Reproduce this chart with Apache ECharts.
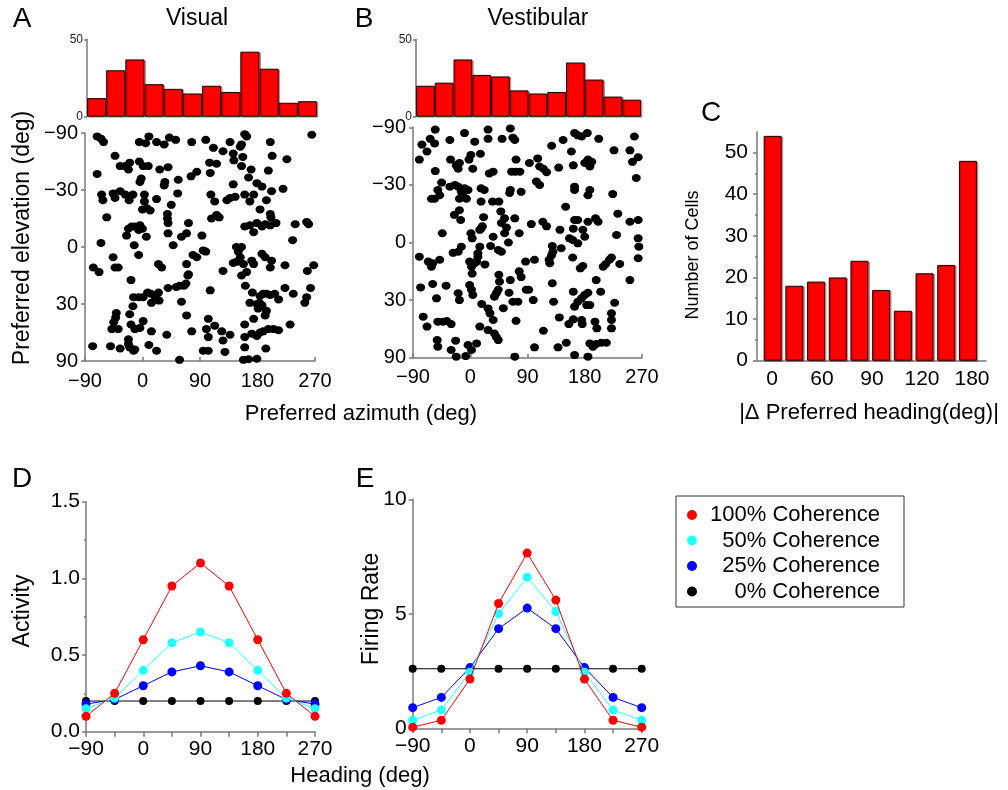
<!DOCTYPE html>
<html><head><meta charset="utf-8">
<script src="https://cdn.jsdelivr.net/npm/echarts@6/dist/echarts.min.js"></script>
<style>html,body{margin:0;padding:0;background:#fff}#c{width:1008px;height:790px}</style>
</head><body><div id="c"></div>
<script>
const FONT = '"Liberation Sans", Arial, Helvetica, sans-serif';

// ---- A / B : azimuth histograms (30° bins from -90 to 270) ----
const azBinCenters = [-75,-45,-15,15,45,75,105,135,165,195,225,255];
const visualAzCounts = [12,30,37,21,18,15,20,16,42,31,9,10];
const vestibularAzCounts = [20,22,37,27,26,17,15,16,35,24,13,11];

// ---- A / B : preferred directions [azimuth (deg), elevation on sine (equal-area) scale] ----
const visualCells = [
[-71,-0.97],[-65,-0.95],[-61,-0.92],[-5,-0.92],[5,-0.91],[10,-0.97],[22,-0.92],[34,-0.90],[42,-0.96],[52,-0.94],[77,-0.92],[99,-0.94],[111,-0.87],[126,-0.84],[137,-0.92],[142,-0.82],[160,-0.99],[163,-0.97],[155,-0.90],[153,-0.88],[200,-0.92],[203,-0.80],[226,-0.77],[265,-0.985],
[-43,-0.80],[-35,-0.71],[-27,-0.71],[-22,-0.68],[-20,-0.74],[-5,-0.75],[1,-0.71],[9,-0.71],[27,-0.68],[40,-0.70],[-71,-0.64],[-2,-0.60],[-4,-0.57],[56,-0.59],[76,-0.62],[85,-0.66],[105,-0.74],[116,-0.73],[106,-0.65],[143,-0.76],[157,-0.79],[155,-0.71],[170,-0.68],[166,-0.61],[179,-0.56],[187,-0.53],[197,-0.67],[202,-0.49],[220,-0.51],[142,-0.55],[34,-0.54],[35,-0.57],
[-64,-0.46],[-62,-0.41],[-46,-0.47],[-43,-0.43],[-35,-0.49],[-27,-0.46],[-20,-0.44],[-15,-0.46],[-21,-0.41],[3,-0.46],[3,-0.40],[7,-0.34],[0,-0.33],[12,-0.32],[22,-0.42],[55,-0.47],[45,-0.37],[39,-0.29],[39,-0.25],[107,-0.46],[113,-0.40],[120,-0.26],[116,-0.28],[108,-0.25],[132,-0.41],[137,-0.43],[145,-0.44],[160,-0.46],[168,-0.40],[174,-0.46],[194,-0.41],[184,-0.33],[200,-0.29],[201,-0.26],[-56,-0.26],
[-22,-0.16],[-17,-0.18],[-12,-0.18],[-4,-0.19],[0,-0.16],[-6,-0.15],[40,-0.21],[40,-0.12],[72,-0.21],[69,-0.12],[61,-0.09],[93,-0.10],[160,-0.18],[168,-0.19],[174,-0.13],[179,-0.21],[187,-0.18],[192,-0.20],[200,-0.19],[209,-0.21],[239,-0.20],[257,-0.22],[260,-0.20],[-25,-0.10],[6,-0.09],[-65,-0.035],[48,-0.015],[-13,-0.015],[-6,0.07],[235,-0.06],
[-46,0.09],[-38,0.18],[-43,0.18],[-77,0.18],[-68,0.22],[-18,0.29],[25,0.15],[30,0.18],[69,0.15],[72,0.24],[71,0.25],[68,0.32],[65,0.34],[58,0.34],[53,0.35],[79,0.07],[85,0.09],[95,0.03],[99,0.04],[40,0.36],[61,0.48],[106,0.38],[126,0.21],
[147,0.0],[155,0.0],[150,0.04],[153,0.09],[147,0.13],[158,0.15],[155,0.25],[163,0.22],[171,0.12],[174,0.15],[187,0.06],[192,0.09],[202,0.12],[200,0.18],[142,0.14],[223,0.16],[268,0.16],[258,0.21],
[161,0.34],[172,0.40],[184,0.43],[189,0.41],[194,0.41],[200,0.42],[207,0.41],[213,0.46],[183,0.49],[187,0.51],[181,0.54],[179,0.50],[168,0.49],[194,0.56],[192,0.60],[223,0.36],[236,0.41],[257,0.44],[254,0.49],[263,0.36],
[-14,0.44],[-6,0.44],[1,0.44],[8,0.40],[13,0.41],[20,0.44],[25,0.40],[26,0.47],[14,0.49],[-15,0.52],[-41,0.58],[-42,0.62],[-45,0.66],[-48,0.72],[-38,0.72],[-20,0.59],[1,0.65],[-18,0.68],[-12,0.72],[-4,0.71],[14,0.74],[38,0.77],[69,0.60],[77,0.74],[103,0.63],[100,0.72],[113,0.69],[103,0.79],[124,0.74],[126,0.82],[137,0.77],[160,0.68],[174,0.63],[171,0.76],[160,0.79],[179,0.78],[184,0.75],[189,0.74],[197,0.72],[205,0.72],[213,0.73],[231,0.68],
[-78,0.87],[-50,0.87],[-35,0.89],[-22,0.81],[-22,0.85],[-20,0.88],[-14,0.91],[-12,0.90],[10,0.86],[22,0.91],[58,0.99],[95,0.91],[103,0.91],[129,0.92],[160,0.88],[158,0.99],[166,0.985],[179,0.98],[193,0.89]
];
const vestibularCells = [
[-80,-0.72],[-76,-0.85],[-68,-0.79],[-63,-0.90],[-56,-0.86],[-55,-0.98],[-55,-0.62],[-32,-0.89],[-31,-0.72],[-22,-0.67],[-17,-0.69],[-19,-0.64],[-9,-0.95],[-2,-0.72],[1,-0.76],[7,-0.875],[4,-0.64],[16,-0.77],[28,-0.98],[28,-0.90],[50,-0.90],[63,-0.99],[67,-0.91],[70,-0.89],[72,-0.72],[65,-0.615],[71,-0.615],[78,-0.615],[30,-0.60],[36,-0.615],
[93,-0.69],[106,-0.73],[109,-0.66],[115,-0.64],[120,-0.61],[128,-0.84],[146,-0.89],[139,-0.65],[159,-0.79],[162,-0.67],[164,-0.95],[169,-0.93],[175,-0.92],[180,-0.69],[184,-0.95],[185,-0.72],[191,-0.70],[188,-0.66],[202,-0.90],[226,-0.80],[251,-0.80],[258,-0.92],[255,-0.70],[264,-0.74],[261,-0.56],
[104,-0.53],[109,-0.50],[164,-0.485],[164,-0.456],[188,-0.456],[185,-0.41],[224,-0.42],
[-45,-0.52],[-51,-0.456],[-48,-0.41],[-56,-0.38],[-61,-0.38],[-32,-0.485],[-24,-0.50],[-19,-0.485],[-14,-0.44],[-11,-0.40],[-9,-0.47],[-3.5,-0.456],[-17,-0.38],[-6,-0.38],[17,-0.47],[22,-0.456],[17,-0.355],[35,-0.355],[45,-0.355],[63,-0.456],[62,-0.43],[80,-0.44],
[-17,-0.28],[-25,-0.24],[-15,-0.195],[21,-0.22],[17,-0.12],[15,-0.11],[19,-0.14],[48,-0.27],[54,-0.21],[57,-0.13],[54,-0.08],[49,-0.17],[70,-0.21],[77,-0.08],[96,-0.16],[114,-0.18],[120,-0.14],[141,-0.11],[150,-0.31],[164,-0.195],[162,-0.12],[169,-0.195],[177,-0.11],[185,-0.18],[197,-0.21],[201,-0.18],[232,-0.25],[230,-0.065],[251,-0.18],[264,-0.195],
[-44,-0.08],[1,-0.08],[3,-0.036],[36,-0.05],[-19,0.08],[-14,0.036],[-27,0.09],[15,0.036],[12,0.094],[10,0.166],[2,0.21],[3,0.27],[7,0.18],[-1,0.166],[23,0.19],[12,0.123],[32,0.03],[44,0.065],[49,0.08],[60,0.0],
[-80,0.123],[-66,0.166],[-61,0.21],[-59,0.18],[-48,0.15],[77,0.25],[80,0.30],[87,0.166],[101,0.15],[124,0.15],[125,0.18],[128,0.11],[130,0.08],[129,0.03],[143,0.05],[156,-0.036],[161,-0.022],[169,0.007],[180,-0.05],[161,0.13],[173,0.224],[177,0.204],[209,0.21],[213,0.187],[219,0.15],[222,0.13],[235,0.187],[264,-0.036],[265,0.036],[264,0.137],
[-78,0.39],[-59,0.36],[-38,0.375],[-53,0.485],[-19,0.44],[-17,0.50],[-1,0.37],[2,0.41],[4,0.456],[45,0.28],[46,0.34],[44,0.41],[41,0.44],[38,0.47],[52,0.57],[63,0.326],[61,0.436],[67,0.514],[75,0.514],[88,0.41],[92,0.41],[99,0.50],[129,0.354],[131,0.514],
[162,0.427],[164,0.557],[169,0.514],[175,0.485],[180,0.456],[185,0.436],[183,0.543],[188,0.543],[198,0.326],[205,0.427],[227,0.523],[222,0.615],[222,0.673],[251,0.326],
[18,0.534],[28,0.572],[31,0.615],[36,0.673],[28,0.76],[38,0.79],[41,0.82],[44,0.847],[15,0.73],[-74,0.644],[-68,0.73],[-51,0.687],[-43,0.687],[-37,0.682],[-30,0.708],[72,0.68],[115,0.766],[140,0.65],[155,0.708],[162,0.667],[175,0.673],[176,0.708],[196,0.687],[199,0.745],[222,0.745],
[-52,0.847],[-51,0.904],[-30,0.933],[-23,0.852],[-22,0.991],[-7,0.986],[-3.5,0.89],[2,0.933],[10,0.876],[70,0.991],[101,0.91],[138,0.91],[151,0.87],[164,0.977],[185,0.991],[188,0.876],[193,0.904],[198,0.881],[206,0.87],[214,0.87]
];

// ---- C : |Δ preferred heading| histogram ----
const deltaBinCenters = [9,27,45,63,81,99,117,135,153,171];
const deltaCounts = [54,18,19,20,24,17,12,21,23,48];
const deltaTickLabels = ['0','60','90','120','180'];

// ---- D / E : tuning curves ----
const headings = [-90,-45,0,45,90,135,180,225,270];
const coherenceNames = ['100% Coherence','50% Coherence','25% Coherence','0% Coherence'];
const coherenceLabels = ['100% Coherence','  50% Coherence','  25% Coherence','    0% Coherence'];
const coherenceColors = ['#ff0000','#22ffff','#0000ff','#000000'];
const activity100 = [0.10,0.25,0.60,0.95,1.10,0.95,0.60,0.25,0.10];
const activity50  = [0.15,0.22,0.40,0.58,0.65,0.58,0.40,0.22,0.15];
const activity25  = [0.18,0.21,0.30,0.39,0.43,0.39,0.30,0.21,0.18];
const activity0   = [0.20,0.20,0.20,0.20,0.20,0.20,0.20,0.20,0.20];
const firing100 = [0.05,0.35,2.15,5.45,7.65,5.60,2.15,0.35,0.05];
const firing50  = [0.35,0.80,2.45,5.00,6.60,5.10,2.45,0.80,0.35];
const firing25  = [0.90,1.35,2.65,4.35,5.25,4.35,2.65,1.35,0.90];
const firing0   = [2.60,2.60,2.60,2.60,2.60,2.60,2.60,2.60,2.60];

const minus = v => String(v).replace('-', '\u2212');
const AX = {color:'#7a7a7a', width:1.5};
const TXT = {color:'#000', fontFamily: FONT};

function histAxes(gi){
  return {
    x:{type:'category', gridIndex:gi, data:azBinCenters, boundaryGap:true,
       axisLine:{show:false}, axisTick:{show:false}, axisLabel:{show:false}, splitLine:{show:false}},
    y:{type:'value', gridIndex:gi, min:0, max:50, interval:50,
       axisLine:{show:true, onZero:false, lineStyle:AX}, axisTick:{show:true, length:3, lineStyle:AX},
       axisLabel:{...TXT, fontSize:12, margin:4, color:'#222'}, splitLine:{show:false}}
  };
}
function scatterAxes(gi){
  return {
    x:{type:'value', gridIndex:gi, min:-90, max:270, interval:90,
       axisLine:{show:true, onZero:false, lineStyle:AX}, axisTick:{show:true, inside:true, length:4, lineStyle:AX},
       axisLabel:{...TXT, fontSize:20, margin:10, formatter: v => minus(v)}, splitLine:{show:false}},
    y:{type:'value', gridIndex:gi, min:-1, max:1, interval:0.5, inverse:true,
       axisLine:{show:true, onZero:false, lineStyle:AX}, axisTick:{show:true, length:4, lineStyle:AX},
       axisLabel:{...TXT, fontSize:20, margin:7,
         formatter: v => minus(Math.round(Math.asin(Math.max(-1, Math.min(1, v))) * 180 / Math.PI) || 0)},
       splitLine:{show:false}}
  };
}
function tuningAxes(gi, ymax, yint, yfmt, minor){
  return {
    x:{type:'value', gridIndex:gi, min:-90, max:270, interval:45,
       axisLine:{show:true, onZero:false, lineStyle:AX}, axisTick:{show:true, length:5, lineStyle:AX},
       axisLabel:{...TXT, fontSize:21, margin:7, formatter: v => (v % 90 === 0 ? minus(v) : '')}, splitLine:{show:false}},
    y:{type:'value', gridIndex:gi, min:0, max:ymax, interval:yint,
       axisLine:{show:true, onZero:false, lineStyle:AX}, axisTick:{show:true, length:4, lineStyle:AX},
       minorTick:{show:minor, splitNumber:2, length:2, lineStyle:AX},
       axisLabel:{...TXT, fontSize:21, margin:6, formatter:yfmt}, splitLine:{show:false}}
  };
}

const hA = histAxes(0), sA = scatterAxes(1), hB = histAxes(2), sB = scatterAxes(3);
const tD = tuningAxes(6, 1.5, 0.5, v => v.toFixed(1), true);
const tE = tuningAxes(7, 10, 5, v => String(v), false);

const cX = {type:'value', gridIndex:4, min:-4, max:186,
  axisLine:{show:true, onZero:false, lineStyle:AX}, axisTick:{show:false}, axisLabel:{show:false}, splitLine:{show:false}};
const cY = {type:'value', gridIndex:4, min:0, max:55, interval:10,
  axisLine:{show:true, onZero:false, lineStyle:AX}, axisTick:{show:true, length:4, lineStyle:AX, customValues:[0,10,20,30,40,50]},
  minorTick:{show:true, splitNumber:2, length:2, lineStyle:AX},
  axisLabel:{...TXT, fontSize:21, margin:9, showMaxLabel:false, formatter: v => (v % 10 === 0 ? String(v) : '')}, splitLine:{show:false}};
const cLabX = {type:'category', gridIndex:5, data:deltaTickLabels, boundaryGap:false,
  axisLine:{show:false}, axisTick:{show:false}, axisLabel:{...TXT, fontSize:21, margin:8, interval:0}, splitLine:{show:false}};
const cLabY = {type:'value', gridIndex:5, show:false};

const histStyle = {color:'#ff0000', borderColor:'#1a0000', borderWidth:1,
  shadowColor:'rgba(140,0,0,0.35)', shadowOffsetX:1.5, shadowOffsetY:1, shadowBlur:0};

function tuningSeries(xi, arrs){
  const order = [3,2,1,0];
  return order.map(k => ({
    type:'line', name:coherenceNames[k], xAxisIndex:xi, yAxisIndex:xi,
    data: headings.map((h,i) => [h, arrs[k][i]]),
    symbol:'circle', symbolSize: k === 3 ? 8 : 9, showSymbol:true,
    lineStyle:{color:coherenceColors[k], width:1},
    itemStyle:{color:coherenceColors[k], opacity:1},
    z: 2 + (3 - k)
  }));
}

const option = {
  animation:false,
  backgroundColor:'#fff',
  grid:[
    {left:87, top:39.3, width:230, height:77.4, outerBoundsMode:'none'},
    {left:85, top:133, width:230, height:228, outerBoundsMode:'none'},
    {left:416, top:39.3, width:225, height:77.4, outerBoundsMode:'none'},
    {left:413, top:127.3, width:229, height:230.4, outerBoundsMode:'none'},
    {left:757, top:131.7, width:229, height:229, outerBoundsMode:'none'},
    {left:772, top:131.7, width:200, height:229, outerBoundsMode:'none'},
    {left:86, top:501.7, width:229, height:230, outerBoundsMode:'none'},
    {left:412.7, top:499.3, width:229, height:229, outerBoundsMode:'none'}
  ],
  xAxis:[hA.x, sA.x, hB.x, sB.x, cX, cLabX, tD.x, tE.x],
  yAxis:[hA.y, sA.y, hB.y, sB.y, cY, cLabY, tD.y, tE.y],
  legend:{
    data:coherenceNames, orient:'vertical', left:676, top:496,
    icon:'circle', itemWidth:26, itemHeight:10, itemGap:3.5,
    padding:[8, 24, 4.5, 11], borderColor:'#333', borderWidth:1, backgroundColor:'#fff',
    selectedMode:false,
    formatter: name => coherenceLabels[coherenceNames.indexOf(name)],
    textStyle:{...TXT, fontSize:22, lineHeight:22}
  },
  series:[
    {type:'bar', xAxisIndex:0, yAxisIndex:0, data:visualAzCounts, barWidth:'100%', barGap:'0%', itemStyle:histStyle},
    {type:'scatter', xAxisIndex:1, yAxisIndex:1, data:visualCells, symbolSize:[9,8], itemStyle:{color:'#000', opacity:1}},
    {type:'bar', xAxisIndex:2, yAxisIndex:2, data:vestibularAzCounts, barWidth:'100%', barGap:'0%', itemStyle:histStyle},
    {type:'scatter', xAxisIndex:3, yAxisIndex:3, data:vestibularCells, symbolSize:[9,8], itemStyle:{color:'#000', opacity:1}},
    {type:'bar', xAxisIndex:4, yAxisIndex:4, data:deltaBinCenters.map((c,i) => [c, deltaCounts[i]]), barWidth:18, itemStyle:histStyle},
    ...tuningSeries(6, [activity100, activity50, activity25, activity0]),
    ...tuningSeries(7, [firing100, firing50, firing25, firing0])
  ],
  graphic:[
    {type:'text', x:22, y:19, style:{text:'A', font:'28px '+FONT, fill:'#000', textAlign:'center', textVerticalAlign:'middle'}},
    {type:'text', x:364, y:19, style:{text:'B', font:'28px '+FONT, fill:'#000', textAlign:'center', textVerticalAlign:'middle'}},
    {type:'text', x:711, y:113, style:{text:'C', font:'28px '+FONT, fill:'#000', textAlign:'center', textVerticalAlign:'middle'}},
    {type:'text', x:22, y:479, style:{text:'D', font:'28px '+FONT, fill:'#000', textAlign:'center', textVerticalAlign:'middle'}},
    {type:'text', x:365, y:479, style:{text:'E', font:'28px '+FONT, fill:'#000', textAlign:'center', textVerticalAlign:'middle'}},
    {type:'text', x:197, y:19, style:{text:'Visual', font:'23px '+FONT, fill:'#000', textAlign:'center', textVerticalAlign:'middle'}},
    {type:'text', x:538, y:19, style:{text:'Vestibular', font:'23px '+FONT, fill:'#000', textAlign:'center', textVerticalAlign:'middle'}},
    {type:'text', x:23, y:238, rotation:Math.PI/2, style:{text:'Preferred elevation (deg)', font:'23px '+FONT, fill:'#000', textAlign:'center', textVerticalAlign:'middle'}},
    {type:'text', x:361, y:414, style:{text:'Preferred azimuth (deg)', font:'22px '+FONT, fill:'#000', textAlign:'center', textVerticalAlign:'middle'}},
    {type:'text', x:869, y:413, style:{text:'|\u0394 Preferred heading(deg)|', font:'22px '+FONT, fill:'#000', textAlign:'center', textVerticalAlign:'middle'}},
    {type:'text', x:693, y:255, rotation:Math.PI/2, style:{text:'Number of Cells', font:'18px '+FONT, fill:'#000', textAlign:'center', textVerticalAlign:'middle'}},
    {type:'text', x:23, y:611, rotation:Math.PI/2, style:{text:'Activity', font:'23px '+FONT, fill:'#000', textAlign:'center', textVerticalAlign:'middle'}},
    {type:'text', x:372, y:609, rotation:Math.PI/2, style:{text:'Firing Rate', font:'23px '+FONT, fill:'#000', textAlign:'center', textVerticalAlign:'middle'}},
    {type:'text', x:360, y:776, style:{text:'Heading (deg)', font:'22px '+FONT, fill:'#000', textAlign:'center', textVerticalAlign:'middle'}}
  ]
};
const chart = echarts.init(document.getElementById('c'), null, {renderer:'canvas'});
chart.setOption(option);
</script></body></html>
